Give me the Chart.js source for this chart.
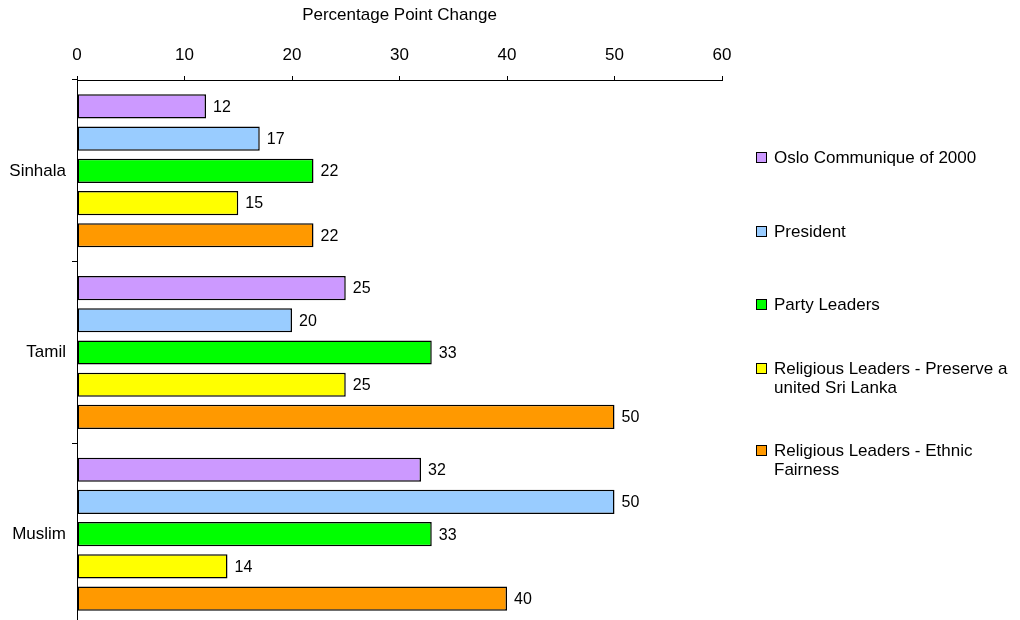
<!DOCTYPE html>
<html>
<head>
<meta charset="utf-8">
<script src="https://cdn.jsdelivr.net/npm/chart.js@4"></script>
<style>
  body { margin: 0; background: #fff; }
  #wrap { position: relative; width: 1020px; height: 620px; overflow: hidden; }
  #legend { position: absolute; left: 0; top: 0; font-family: "Liberation Sans", Arial, sans-serif; font-size: 17px; color: #000; }
  .lg-item { position: absolute; left: 756px; width: 260px; line-height: 19px; }
  .lg-box { position: absolute; left: 0; top: 4px; width: 9px; height: 9px; border: 1px solid #000; }
  .lg-text { position: absolute; left: 18px; white-space: nowrap; }
</style>
</head>
<body>
<div id="wrap">
  <!-- canvas a little taller than the window: the plot runs past the bottom edge, as in the original -->
  <canvas id="c" width="1020" height="625"></canvas>
  <div id="legend"></div>
</div>
<script>
// categories and series
const CATEGORIES = ['Sinhala', 'Tamil', 'Muslim'];
const SERIES_NAMES = [
  ['Oslo Communique of 2000'],
  ['President'],
  ['Party Leaders'],
  ['Religious Leaders - Preserve a', 'united Sri Lanka'],
  ['Religious Leaders - Ethnic', 'Fairness']
];
const SERIES_COLORS = ['#CC99FF', '#99CCFF', '#00FF00', '#FFFF00', '#FF9900'];
const OSLO = [12, 25, 32];
const PRESIDENT = [17, 20, 50];
const PARTY = [22, 33, 33];
const REL_UNITED = [15, 25, 14];
const REL_FAIR = [22, 50, 40];
const X_TICKS = [0, 10, 20, 30, 40, 50, 60];

const FONT = "'Liberation Sans', Arial, sans-serif";
const SERIES_VALUES = [OSLO, PRESIDENT, PARTY, REL_UNITED, REL_FAIR];

// value labels at bar ends
const valueLabels = {
  id: 'valueLabels',
  afterDatasetsDraw(chart){
    const ctx = chart.ctx;
    ctx.save();
    ctx.font = '16px ' + FONT;
    ctx.fillStyle = '#000';
    ctx.textBaseline = 'middle';
    ctx.textAlign = 'left';
    chart.data.datasets.forEach((ds, i) => {
      chart.getDatasetMeta(i).data.forEach((bar, j) => {
        ctx.fillText(String(ds.data[j]), bar.x + 7, bar.y + 1);
      });
    });
    ctx.restore();
  }
};

new Chart(document.getElementById('c'), {
  type: 'bar',
  data: {
    labels: CATEGORIES,
    datasets: SERIES_VALUES.map((vals, i) => ({
      label: SERIES_NAMES[i].join(' '),
      data: vals,
      backgroundColor: SERIES_COLORS[i],
      borderColor: '#000',
      borderWidth: 1.5,
      borderSkipped: false,
      categoryPercentage: 0.887,
      barPercentage: 0.75
    }))
  },
  options: {
    indexAxis: 'y',
    responsive: false,
    animation: false,
    layout: { padding: { left: 0, right: 298, top: 0, bottom: 0 } },
    plugins: { legend: { display: false }, tooltip: { enabled: false } },
    scales: {
      x: {
        position: 'top',
        min: 0, max: 60,
        afterBuildTicks(scale){ scale.ticks = X_TICKS.map(v => ({ value: v })); },
        afterFit(scale){ scale.height = 80; },
        grid: { drawOnChartArea: false, tickLength: 4, color: '#000' },
        border: { color: '#000', width: 1 },
        ticks: { color: '#000', font: { family: FONT, size: 17 }, padding: 10, maxRotation: 0 },
        title: { display: true, text: 'Percentage Point Change', color: '#000', font: { family: FONT, size: 17 }, padding: { top: 5, bottom: 0 } }
      },
      y: {
        afterFit(scale){ scale.width = 77; scale.paddingTop = 0; scale.paddingBottom = 0; },
        grid: { drawOnChartArea: false, tickLength: 5, color: '#000', offset: true },
        border: { color: '#000', width: 1 },
        ticks: { color: '#000', font: { family: FONT, size: 17 }, padding: 6 }
      }
    }
  },
  plugins: [valueLabels]
});

// legend on the right, drawn as html text
const legend = document.getElementById('legend');
const LEGEND_TOPS = [148, 222, 295, 359, 441];
SERIES_NAMES.forEach((lines, i) => {
  const item = document.createElement('div');
  item.className = 'lg-item';
  item.style.top = LEGEND_TOPS[i] + 'px';
  item.innerHTML = '<div class="lg-box" style="background:' + SERIES_COLORS[i] + '"></div>' +
    '<div class="lg-text">' + lines.join('<br>') + '</div>';
  legend.appendChild(item);
});
</script>
</body>
</html>
